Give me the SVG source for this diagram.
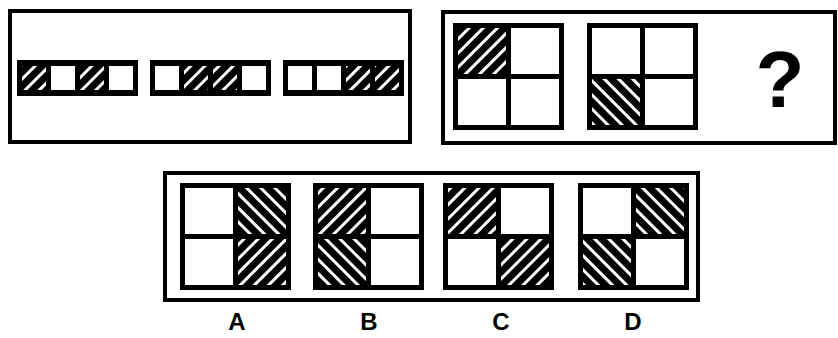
<svg xmlns="http://www.w3.org/2000/svg" width="838" height="338" viewBox="0 0 838 338">
<defs>
<pattern id="up" patternUnits="userSpaceOnUse" width="10" height="10" patternTransform="rotate(45)">
<rect width="10" height="10" fill="#000"/>
<rect x="0" width="3" height="10" fill="#fff"/>
</pattern>
<pattern id="dn" patternUnits="userSpaceOnUse" width="10" height="10" patternTransform="rotate(-45)">
<rect width="10" height="10" fill="#000"/>
<rect x="0" width="3" height="10" fill="#fff"/>
</pattern>
</defs>
<style>
.frame{fill:#fff;stroke:#000;stroke-width:4}
.blk{fill:#000}
.w{fill:#fff}
.u{fill:url(#up)}
.d{fill:url(#dn)}
.lbl{font-family:"Liberation Sans",Arial,sans-serif;font-weight:bold;font-size:24px;text-anchor:middle;fill:#000}
.q{font-family:"Liberation Sans",Arial,sans-serif;font-weight:bold;font-size:80px;text-anchor:middle;fill:#000}
</style>
<rect width="838" height="338" fill="#fff"/>

<g id="panel1">
<rect class="frame" x="10" y="11" width="400" height="131"/>
<g id="strip1">
<rect class="blk" x="17" y="60" width="121" height="36"/>
<rect class="u" x="22" y="66" width="24" height="24"/>
<rect class="w" x="51" y="66" width="24" height="24"/>
<rect class="u" x="80" y="66" width="24" height="24"/>
<rect class="w" x="109" y="66" width="24" height="24"/>
</g>
<g id="strip2">
<rect class="blk" x="150" y="60" width="121" height="36"/>
<rect class="w" x="155" y="66" width="24" height="24"/>
<rect class="u" x="184" y="66" width="24" height="24"/>
<rect class="u" x="213" y="66" width="24" height="24"/>
<rect class="w" x="242" y="66" width="24" height="24"/>
</g>
<g id="strip3">
<rect class="blk" x="283" y="60" width="121" height="36"/>
<rect class="w" x="288" y="66" width="24" height="24"/>
<rect class="w" x="317" y="66" width="24" height="24"/>
<rect class="u" x="346" y="66" width="24" height="24"/>
<rect class="u" x="375" y="66" width="24" height="24"/>
</g>
</g>

<g id="panel2">
<rect class="frame" x="443" y="12" width="392" height="131"/>
<g id="sq1">
<rect class="blk" x="453" y="23" width="111" height="107"/>
<rect class="u" x="458" y="28" width="48" height="46"/>
<rect class="w" x="511" y="28" width="48" height="46"/>
<rect class="w" x="458" y="79" width="48" height="46"/>
<rect class="w" x="511" y="79" width="48" height="46"/>
</g>
<g id="sq2">
<rect class="blk" x="587" y="23" width="111" height="107"/>
<rect class="w" x="592" y="28" width="48" height="46"/>
<rect class="w" x="645" y="28" width="48" height="46"/>
<rect class="d" x="592" y="79" width="48" height="46"/>
<rect class="w" x="645" y="79" width="48" height="46"/>
</g>
<text class="q" x="780" y="107">?</text>
</g>

<g id="options">
<rect class="frame" x="165" y="173" width="533" height="127"/>
<g id="optA">
<rect class="blk" x="180" y="183" width="111" height="107"/>
<rect class="w" x="185" y="188" width="48" height="46"/>
<rect class="d" x="238" y="188" width="48" height="46"/>
<rect class="w" x="185" y="239" width="48" height="46"/>
<rect class="u" x="238" y="239" width="48" height="46"/>
</g>
<g id="optB">
<rect class="blk" x="313" y="183" width="111" height="107"/>
<rect class="u" x="318" y="188" width="48" height="46"/>
<rect class="w" x="371" y="188" width="48" height="46"/>
<rect class="d" x="318" y="239" width="48" height="46"/>
<rect class="w" x="371" y="239" width="48" height="46"/>
</g>
<g id="optC">
<rect class="blk" x="443" y="183" width="111" height="107"/>
<rect class="u" x="448" y="188" width="48" height="46"/>
<rect class="w" x="501" y="188" width="48" height="46"/>
<rect class="w" x="448" y="239" width="48" height="46"/>
<rect class="u" x="501" y="239" width="48" height="46"/>
</g>
<g id="optD">
<rect class="blk" x="578" y="183" width="111" height="107"/>
<rect class="w" x="583" y="188" width="48" height="46"/>
<rect class="d" x="636" y="188" width="48" height="46"/>
<rect class="d" x="583" y="239" width="48" height="46"/>
<rect class="w" x="636" y="239" width="48" height="46"/>
</g>
</g>

<g id="labels">
<text class="lbl" x="237" y="330">A</text>
<text class="lbl" x="369" y="330">B</text>
<text class="lbl" x="501" y="330">C</text>
<text class="lbl" x="633" y="330">D</text>
</g>
<g id="connectors"/>
</svg>
